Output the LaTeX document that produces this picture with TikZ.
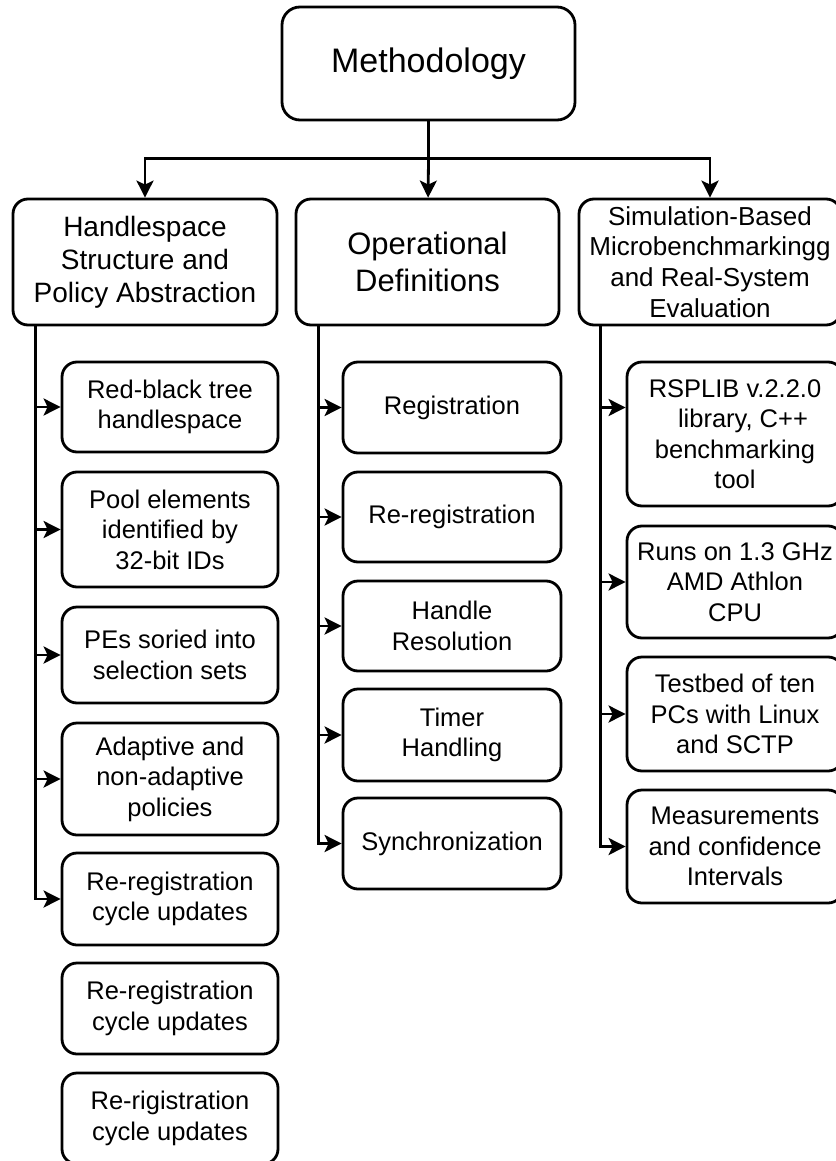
\documentclass[tikz,border=0pt]{standalone}
\usepackage{fontspec}
\setmainfont{Liberation Sans}
\usetikzlibrary{arrows.meta,calc}

\begin{document}
\begin{tikzpicture}[x=1pt, y=-1pt, line width=2.8pt,
    box/.style={draw, rounded corners=15pt, inner sep=0pt, align=center, minimum width=#1},
    item/.style={box=216pt, font=\fontsize{25.5}{30.5}\selectfont},
    arr/.style={-{Stealth[length=17pt, width=17pt, inset=4pt]}}]
  \useasboundingbox (0,0) rectangle (835,1161);

  % top and second level
  \node[box=293pt, minimum height=113pt, rounded corners=18pt, font=\fontsize{34}{41}\selectfont] (meth) at (428.5,63.5) {Methodology};
  \node[box=264pt, minimum height=126pt, font=\fontsize{28}{33}\selectfont] (hs) at (145,262) {Handlespace\\Structure and\\Policy Abstraction};
  \node[box=263pt, minimum height=126pt, font=\fontsize{31}{37}\selectfont] (od) at (427.5,262) {Operational\\Definitions};
  \node[box=262pt, minimum height=126pt, font=\fontsize{26}{30.7}\selectfont] (sb) at (710,262) {Simulation-Based\\Microbenchmarkingg\\and Real-System\\Evaluation};

  % left column
  \node[item, minimum height=90pt] (hs1) at (170,407) {Red-black tree\\handlespace};
  \node[item, minimum height=115pt] (hs2) at (170,529.5) {Pool elements\\identified by\hspace*{36pt}\\32-bit IDs};
  \node[item, minimum height=96pt] (hs3) at (170,655) {PEs soried into\\selection sets};
  \node[item, minimum height=112pt] (hs4) at (170,779) {Adaptive and\\non-adaptive\\policies};
  \node[item, minimum height=92pt] (hs5) at (170,899) {Re-registration\\cycle updates};
  \node[item, minimum height=91pt] (hs6) at (170,1008.5) {Re-registration\\cycle updates};
  \node[item, minimum height=91pt] (hs7) at (170,1118.5) {Re-rigistration\\cycle updates};

  % middle column
  \node[item, box=218pt, minimum height=91pt] (od1) at (452,407.5) {Registration};
  \node[item, box=218pt, minimum height=90pt] (od2) at (452,517) {Re-registration};
  \node[item, box=218pt, minimum height=90pt] (od3) at (452,626) {Handle\\Resolution};
  \node[item, box=218pt, minimum height=92pt] (od4) at (452,735) {Timer\\Handling};
  \node[item, box=218pt, minimum height=91pt] (od5) at (452,843.5) {Synchronization};

  % right column
  \node[item, minimum height=144pt] (sb1) at (735,434) {RSPLIB v.2.2.0\\\hspace*{16pt}library, C++\\benchmarking\\tool};
  \node[item, minimum height=112pt] (sb2) at (735,582) {Runs on 1.3 GHz\\AMD Athlon\\CPU};
  \node[item, minimum height=114pt] (sb3) at (735,714) {Testbed of ten\\PCs with Linux\\and SCTP};
  \node[item, minimum height=113pt] (sb4) at (735,846.5) {Measurements\\and confidence\\Intervals};

  % connectors
  \draw (meth.south) -- ++(0,37) coordinate (bus);
  \draw[arr] (bus) -- (od);
  \draw[arr] (bus) -| (hs);
  \draw[arr] (bus) -| (sb);

  \coordinate (hsl) at ($(hs.south west)+(24,0)$);
  \coordinate (odl) at ($(od.south west)+(24,0)$);
  \coordinate (sbl) at ($(sb.south west)+(23,0)$);

  \draw[arr] (hsl) |- (hs5);
  \foreach \c in {hs1,hs2,hs3,hs4}
    \draw[arr] (hsl |- \c.west) -- (\c);
  \draw[arr] (odl) |- (od5);
  \foreach \c in {od1,od2,od3,od4}
    \draw[arr] (odl |- \c.west) -- (\c);
  \draw[arr] (sbl) |- (sb4);
  \draw[arr] (sbl |- od1.west) -- (sb1.west |- od1.west);
  \foreach \c in {sb2,sb3}
    \draw[arr] (sbl |- \c.west) -- (\c);
\end{tikzpicture}
\end{document}
